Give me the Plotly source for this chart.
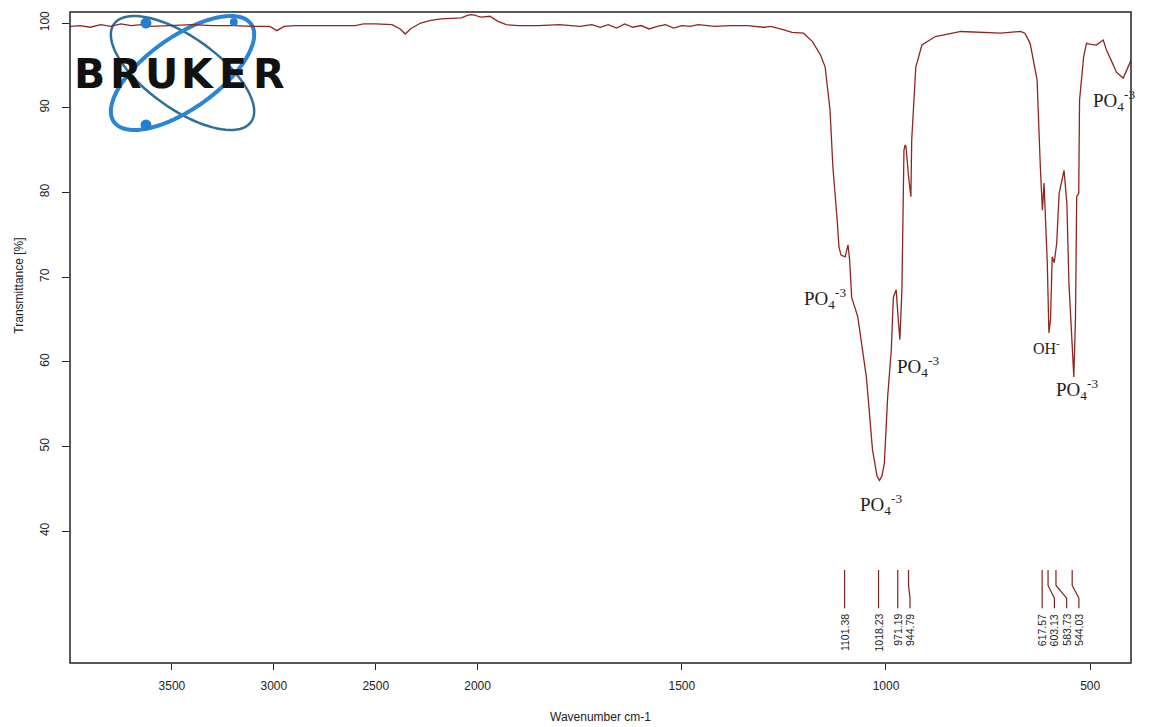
import numpy as np
import plotly.graph_objects as go

# ---------------- data ----------------
wavenumber = [4000, 3950, 3900, 3850, 3800, 3750, 3700, 3650, 3600, 3500, 3400, 3300, 3200, 3100,
              3020, 2985, 2950, 2900, 2800, 2700, 2600, 2560, 2500, 2420, 2380, 2355, 2330, 2280,
              2230, 2180, 2120, 2080, 2050, 2030, 2010, 1990, 1970, 1950, 1930, 1900, 1850, 1800,
              1750, 1720, 1700, 1680, 1660, 1640, 1620, 1600, 1580, 1560, 1540, 1520, 1500, 1480,
              1460, 1420, 1380, 1340, 1300, 1282, 1250, 1230, 1202, 1180, 1160, 1149, 1137, 1130,
              1120, 1115, 1110, 1100, 1093, 1089, 1084, 1069, 1048, 1040, 1033, 1022, 1016, 1010,
              1004, 996, 987, 982, 978, 975, 970, 966, 961, 956, 953, 951, 945, 939, 937, 927,
              912, 879, 816, 760, 719, 671, 660, 647, 630, 622, 617, 613, 610, 605, 601, 597,
              593, 588, 582, 576, 564, 557, 552, 545, 540, 536, 533, 528, 526, 516, 509, 501,
              485, 468, 460, 443, 436, 419, 405, 400]
transmittance = [99.6, 99.7, 99.5, 99.8, 99.6, 99.9, 99.7, 99.8, 99.6, 99.7, 99.8, 99.7, 99.7, 99.6,
                 99.6, 99.1, 99.6, 99.7, 99.7, 99.7, 99.7, 99.9, 99.9, 99.8, 99.3, 98.7, 99.3, 100.0,
                 100.3, 100.5, 100.6, 100.6, 100.9, 101.0, 100.9, 100.7, 100.8, 100.2, 99.8, 99.7, 99.7, 99.8,
                 99.6, 99.8, 99.5, 99.8, 99.4, 99.9, 99.5, 99.7, 99.3, 99.6, 99.8, 99.4, 99.7, 99.6,
                 99.8, 99.6, 99.7, 99.7, 99.5, 99.6, 99.2, 98.9, 98.8, 97.8, 96.2, 94.8, 89.7, 83.0,
                 77.0, 73.5, 72.6, 72.4, 73.8, 72.0, 67.6, 65.3, 58.2, 53.5, 49.6, 46.5, 46.0, 46.5,
                 48.0, 55.8, 61.4, 67.6, 68.3, 68.5, 65.0, 62.6, 68.5, 85.0, 85.6, 85.4, 82.0, 79.5, 86.2, 94.8,
                 97.4, 98.4, 99.0, 98.9, 98.8, 99.0, 98.8, 97.6, 93.3, 83.0, 77.9, 81.1, 77.1, 71.7, 63.4, 65.0,
                 72.4, 71.7, 74.0, 79.9, 82.6, 78.7, 69.3, 61.7, 58.2, 65.0, 79.5, 79.9, 90.9, 96.0, 97.6, 97.5,
                 97.4, 98.0, 96.8, 95.0, 94.2, 93.5, 95.2, 95.6]

peak_wn = [1101.38, 1018.23, 971.19, 944.79, 617.57, 603.13, 583.73, 544.03]
peak_text = ["1101.38", "1018.23", "971.19", "944.79", "617.57", "603.13", "583.73", "544.03"]

x_ticks_high = [3500, 3000, 2500, 2000]
x_ticks_low = [1500, 1000, 500]
y_ticks = [40, 50, 60, 70, 80, 90, 100]

band_text = ["PO<sub>4</sub><sup>-3</sup>", "PO<sub>4</sub><sup>-3</sup>", "PO<sub>4</sub><sup>-3</sup>",
             "OH<sup>-</sup>", "PO<sub>4</sub><sup>-3</sup>", "PO<sub>4</sub><sup>-3</sup>"]
band_wn = [1149, 922, 1011, 608, 533, 497]
band_t = [67.5, 59.4, 43.1, 61.7, 56.7, 90.9]

logo_letters = list("BRUKER")

# ---------------- layout geometry ----------------
W, H = 1149, 727
L, R, T, B = 70, 1145, 12, 663
split = (483 - L) / (R - L)
y_range = [24.44, 101.30]

LINE = "#8e2620"
MARK = "#7e2420"

fig = go.Figure()

for xa in ["x", "x2"]:
    fig.add_trace(go.Scatter(x=wavenumber, y=transmittance, xaxis=xa, yaxis="y", mode="lines",
                             line=dict(color=LINE, width=1.3), showlegend=False, hoverinfo="skip"))

# peak marker lines with label spreading (min gap in cm-1)
gap = 30.0
label_pos = []
prev = None
for w in peak_wn:
    p = w if prev is None else min(w, prev - gap)
    label_pos.append(p)
    prev = p
mx, my = [], []
for w, p in zip(peak_wn, label_pos):
    mx += [w, w, p, p, None]
    my += [35.42, 33.6, 32.1, 30.9, None]
fig.add_trace(go.Scatter(x=mx, y=my, xaxis="x2", yaxis="y", mode="lines",
                         line=dict(color=MARK, width=1.2), showlegend=False, hoverinfo="skip"))

annotations = []
for p, t in zip(label_pos, peak_text):
    annotations.append(dict(x=p, y=30.46, xref="x2", yref="y", text=t, showarrow=False, textangle=-90,
                            xanchor="center", yanchor="top",
                            font=dict(family="Liberation Sans", size=10.5, color="#222")))

for t, w, v in zip(band_text, band_wn, band_t):
    is_oh = t.startswith("OH")
    edge = (w == band_wn[-1])
    annotations.append(dict(x=w, y=v, xref="x2", yref="y", text=t, showarrow=False,
                            xanchor="left" if edge else "center", yanchor="middle",
                            font=dict(family="Liberation Serif", size=16 if is_oh else 19, color="#1e1e1e")))

# axis titles
annotations.append(dict(x=0.5, y=-(717 - B) / (B - T), xref="paper", yref="paper", text="Wavenumber cm-1",
                        showarrow=False, xanchor="center", yanchor="middle",
                        font=dict(family="Liberation Sans", size=12, color="#222")))
annotations.append(dict(x=(18 - L) / (R - L), y=(B - 286) / (B - T), xref="paper", yref="paper",
                        text="Transmittance [%]", textangle=-90, showarrow=False,
                        xanchor="center", yanchor="middle",
                        font=dict(family="Liberation Sans", size=12, color="#222")))


def px(xp):
    return (xp - L) / (R - L)


def py(yp):
    return (B - yp) / (B - T)


# logo letters
for i, ch in enumerate(logo_letters):
    cx = 90 + i * 36.4
    annotations.append(dict(x=px(cx), y=py(74), xref="paper", yref="paper", text="<b>%s</b>" % ch,
                            showarrow=False, xanchor="center", yanchor="middle",
                            font=dict(family="DejaVu Sans", size=41, color="#111")))

shapes = [dict(type="rect", xref="paper", yref="paper", x0=0, x1=1, y0=0, y1=1,
               line=dict(color="#222", width=1.5), layer="above")]


def ellipse_path(cx, cy, a, b, theta_deg, n=90):
    th = np.radians(theta_deg)
    t = np.linspace(0, 2 * np.pi, n)
    xs = cx + a * np.cos(t) * np.cos(th) - b * np.sin(t) * np.sin(th)
    ys = cy + a * np.cos(t) * np.sin(th) + b * np.sin(t) * np.cos(th)
    pts = ["%.5f,%.5f" % (px(x), py(y)) for x, y in zip(xs, ys)]
    return "M " + " L ".join(pts) + " Z"


shapes.append(dict(type="path", xref="paper", yref="paper", path=ellipse_path(184, 73, 85, 36, 35),
                   line=dict(color="#2f6f9a", width=2.5), layer="below"))
shapes.append(dict(type="path", xref="paper", yref="paper", path=ellipse_path(184, 73, 85, 36, -35),
                   line=dict(color="#2a85d6", width=4), layer="below"))
for (dx, dy, r) in [(147, 23, 5.5), (147, 125, 5.5), (236, 22, 4)]:
    shapes.append(dict(type="circle", xref="paper", yref="paper", x0=px(dx - r), x1=px(dx + r),
                       y0=py(dy + r), y1=py(dy - r), fillcolor="#1f7fd6", line=dict(width=0), layer="above"))

tickfont = dict(family="Liberation Sans", size=12, color="#222")
common_x = dict(showgrid=False, zeroline=False, showline=False, ticks="outside", ticklen=6, tickwidth=1.2,
                tickcolor="#222", tickfont=tickfont, ticklabelstandoff=6)

fig.update_layout(
    width=W, height=H, margin=dict(l=L, r=W - R, t=T, b=H - B),
    paper_bgcolor="white", plot_bgcolor="white",
    xaxis=dict(domain=[0, split], range=[4000, 2000], tickvals=x_ticks_high, anchor="y", **common_x),
    xaxis2=dict(domain=[split, 1], range=[2000, 400], tickvals=x_ticks_low, anchor="y", **common_x),
    yaxis=dict(range=y_range, tickvals=y_ticks, showgrid=False, zeroline=False, showline=False,
               ticks="outside", ticklen=7, tickwidth=1.2, tickcolor="#222", tickangle=-90,
               tickfont=tickfont, ticklabelstandoff=8),
    annotations=annotations, shapes=shapes, showlegend=False,
)

fig.write_html("out.html")
